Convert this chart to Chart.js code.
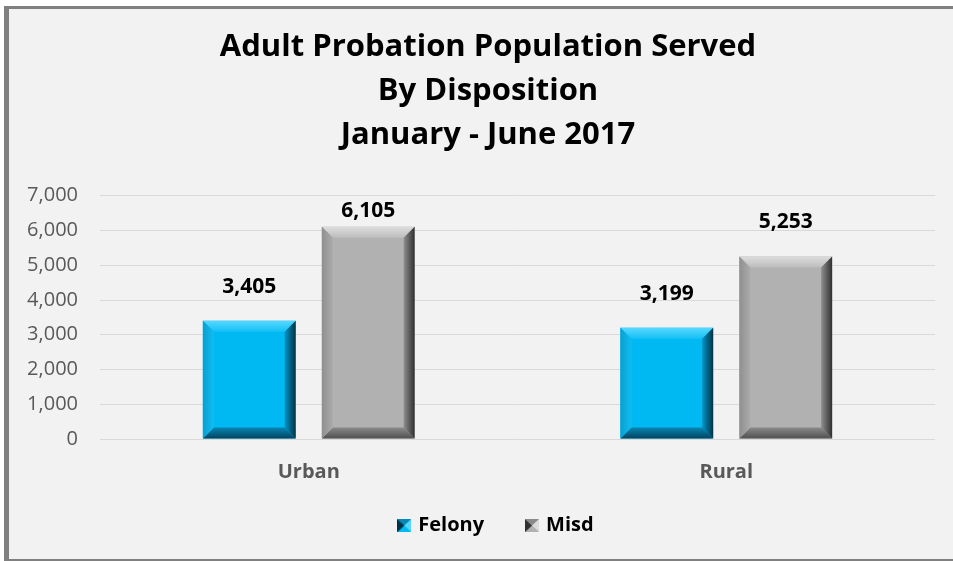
<!DOCTYPE html>
<html>
<head>
<meta charset="utf-8">
<script src="https://cdn.jsdelivr.net/npm/chart.js@4"></script>
<style>
	html, body { margin: 0; padding: 0; background: #ffffff; overflow: hidden; width: 953px; height: 561px; }
	#frame {
		position: absolute; left: 4px; top: 6px;
		width: 1000px; height: 550px;
		border-left: 5px solid #808080;
		border-top: 3px solid #808080;
		border-bottom: 2px solid #808080;
		background: #f2f2f2;
	}
	#chartDisposition { display: block; }
</style>
</head>
<body>
<div id="frame"><canvas id="chartDisposition" width="944" height="550"></canvas></div>
<script>
// Data
var CATEGORIES = ['Urban', 'Rural'];
var SERIES_NAMES = ['Felony', 'Misd'];
var FELONY_VALUES = [3405, 3199];
var MISD_VALUES = [6105, 5253];
var Y_MIN = 0, Y_MAX = 7000, Y_STEP = 1000;
var TITLE_LINES = ['Adult Probation Population Served', 'By Disposition', 'January - June 2017'];

var FONT = "'Open Sans', 'DejaVu Sans', sans-serif";

// Bevel colours per series: face, top, left, right, bottom
var BEVELS = [
	{ face: '#00b9f2', top: ['#58d8ff', '#14c0f5'], left: ['#0a9fd0', '#10bdf2'], right: ['#003247', '#0095c6'], bottom: ['#00445f', '#0a86b4'] },
	{ face: '#b1b1b1', top: ['#dcdcdc', '#bdbdbd'], left: ['#8f8f8f', '#ababab'], right: ['#303030', '#8e8e8e'], bottom: ['#505050', '#8a8a8a'] }
];

function fmt(v) {
	return Number(v).toLocaleString('en-US');
}

// Small bevelled square for the legend
function legendIcon(bevel) {
	var c = document.createElement('canvas');
	c.width = 14; c.height = 13;
	var g = c.getContext('2d');
	var w = 14, h = 13;
	g.fillStyle = bevel.face;
	g.fillRect(0, 0, w, h);
	// dark left half, lighter right
	g.fillStyle = bevel.right[0];
	g.beginPath(); g.moveTo(0, 0); g.lineTo(w / 2, h / 2); g.lineTo(0, h); g.closePath(); g.fill();
	g.fillStyle = bevel.bottom[1];
	g.beginPath(); g.moveTo(0, 0); g.lineTo(w, 0); g.lineTo(w / 2, h / 2); g.closePath(); g.fill();
	g.fillStyle = bevel.top[0];
	g.beginPath(); g.moveTo(w, 0); g.lineTo(w, h); g.lineTo(w / 2, h / 2); g.closePath(); g.fill();
	return c;
}

function poly(ctx, pts, grad) {
	ctx.fillStyle = grad;
	ctx.beginPath();
	ctx.moveTo(pts[0][0], pts[0][1]);
	for (var i = 1; i < pts.length; i++) ctx.lineTo(pts[i][0], pts[i][1]);
	ctx.closePath();
	ctx.fill();
}

function lin(ctx, x0, y0, x1, y1, cols) {
	var g = ctx.createLinearGradient(x0, y0, x1, y1);
	g.addColorStop(0, cols[0]);
	g.addColorStop(1, cols[1]);
	return g;
}

// Draws the bevel edges on top of every bar
var bevelPlugin = {
	id: 'bevel',
	afterDatasetsDraw: function (chart) {
		var ctx = chart.ctx;
		var b = 11;
		chart.data.datasets.forEach(function (ds, di) {
			var bevel = BEVELS[di];
			chart.getDatasetMeta(di).data.forEach(function (bar) {
				var p = bar.getProps(['x', 'y', 'base', 'width'], true);
				var l = p.x - p.width / 2, r = p.x + p.width / 2, t = p.y, bo = p.base;
				ctx.save();
				poly(ctx, [[l, t], [r, t], [r - b, t + b], [l + b, t + b]], lin(ctx, 0, t, 0, t + b, bevel.top));
				poly(ctx, [[l, bo], [r, bo], [r - b, bo - b], [l + b, bo - b]], lin(ctx, 0, bo, 0, bo - b, bevel.bottom));
				poly(ctx, [[l, t], [l + b, t + b], [l + b, bo - b], [l, bo]], lin(ctx, l, 0, l + b, 0, bevel.left));
				poly(ctx, [[r, t], [r - b, t + b], [r - b, bo - b], [r, bo]], lin(ctx, r, 0, r - b, 0, bevel.right));
				ctx.restore();
			});
		});
	}
};

// Value labels above the bars
var valueLabelPlugin = {
	id: 'valueLabels',
	afterDatasetsDraw: function (chart) {
		var ctx = chart.ctx;
		ctx.save();
		ctx.font = 'bold 21px ' + FONT;
		ctx.fillStyle = '#000000';
		ctx.textAlign = 'center';
		ctx.textBaseline = 'middle';
		chart.data.datasets.forEach(function (ds, di) {
			chart.getDatasetMeta(di).data.forEach(function (bar, i) {
				var y = Math.max(bar.y - 34, chart.chartArea.top + 15);
				ctx.fillText(fmt(ds.data[i]), bar.x, y);
			});
		});
		ctx.restore();
	}
};

// Nudge title and legend to where Excel put them, and let the x labels show
var nudgePlugin = {
	id: 'nudge',
	afterLayout: function (chart) {
		chart.titleBlock.left += 16;
		chart.titleBlock.right += 16;
		chart.legend.left += 25;
		chart.legend.right += 25;
		chart.legend.top += 2;
		chart.legend.bottom += 2;
		chart.scales.x.bottom = chart.scales.x.top + 60;
	}
};

var ctx = document.getElementById('chartDisposition');
var chartDisposition = new Chart(ctx, {
	type: 'bar',
	data: {
		labels: CATEGORIES,
		datasets: [
			{ label: SERIES_NAMES[0], data: FELONY_VALUES, backgroundColor: BEVELS[0].face, pointStyle: legendIcon(BEVELS[0]) },
			{ label: SERIES_NAMES[1], data: MISD_VALUES, backgroundColor: BEVELS[1].face, pointStyle: legendIcon(BEVELS[1]) }
		]
	},
	options: {
		responsive: false,
		devicePixelRatio: 1,
		animation: false,
		barPercentage: 0.78,
		categoryPercentage: 0.57,
		layout: { padding: { left: 0, right: 18, top: 0, bottom: 15.5 } },
		plugins: {
			title: {
				display: true,
				text: TITLE_LINES,
				color: '#000000',
				font: { family: FONT, size: 31, weight: 'bold', lineHeight: 1.42 },
				padding: { top: 16, bottom: 38.7 }
			},
			legend: {
				position: 'bottom',
				labels: {
					usePointStyle: true,
					pointStyleWidth: 8,
					padding: 44,
					color: '#000000',
					font: { family: FONT, size: 20, weight: 'bold' }
				}
			},
			tooltip: { enabled: false }
		},
		scales: {
			x: {
				grid: { display: false, drawTicks: false },
				border: { display: false },
				ticks: { color: '#595959', padding: 21, font: { family: FONT, size: 20, weight: 'bold' } },
				afterFit: function (scale) { scale.height = 30.5; }
			},
			y: {
				min: Y_MIN,
				max: Y_MAX,
				grid: { color: '#d9d9d9', lineWidth: 1, drawTicks: false },
				border: { display: false },
				ticks: {
					stepSize: Y_STEP,
					padding: 22,
					color: '#595959',
					font: { family: FONT, size: 20 },
					callback: function (v) { return fmt(v); }
				},
				afterFit: function (scale) { scale.width = 91; }
			}
		}
	},
	plugins: [bevelPlugin, valueLabelPlugin, nudgePlugin]
});
</script>
</body>
</html>
